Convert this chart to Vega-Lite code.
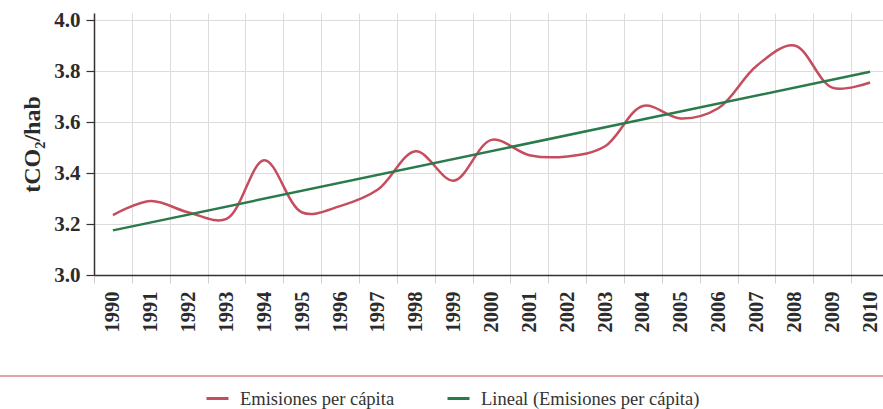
{
  "$schema": "https://vega.github.io/schema/vega-lite/v6.json",
  "autosize": {"type": "none"},
  "width": 795,
  "height": 262,
  "padding": {"left": 94, "top": 13, "right": -6, "bottom": 134},
  "background": "white",
  "datasets": {
    "emis": [
      {"year": 1990, "value": 3.235},
      {"year": 1991, "value": 3.29},
      {"year": 1992, "value": 3.245},
      {"year": 1993, "value": 3.22},
      {"year": 1994, "value": 3.45},
      {"year": 1995, "value": 3.245},
      {"year": 1996, "value": 3.27},
      {"year": 1997, "value": 3.335},
      {"year": 1998, "value": 3.485},
      {"year": 1999, "value": 3.37},
      {"year": 2000, "value": 3.53},
      {"year": 2001, "value": 3.47},
      {"year": 2002, "value": 3.465},
      {"year": 2003, "value": 3.505},
      {"year": 2004, "value": 3.663},
      {"year": 2005, "value": 3.614},
      {"year": 2006, "value": 3.655},
      {"year": 2007, "value": 3.82},
      {"year": 2008, "value": 3.9},
      {"year": 2009, "value": 3.735},
      {"year": 2010, "value": 3.755}
    ],
    "trend": [
      {"year": 1990, "value": 3.175},
      {"year": 2010, "value": 3.797}
    ],
    "sep": [
      {"level": 2.604}
    ]
  },
  "layer": [
    {
      "layer": [
        {
          "data": {"name": "emis"},
          "mark": {"type": "line", "interpolate": "catmull-rom", "strokeWidth": 2.5},
          "encoding": {
            "x": {
              "field": "year", "type": "ordinal", "title": null,
              "scale": {"type": "band", "paddingInner": 0, "paddingOuter": 0},
              "axis": {
                "tickBand": "extent", "grid": true, "gridColor": "#dcdcdc", "gridWidth": 1,
                "domainColor": "#333333", "domainWidth": 1.5,
                "tickColor": "#d0d0d0", "tickSize": 8, "tickWidth": 1,
                "labelAngle": 270, "labelFont": "Liberation Serif", "labelFontWeight": "bold",
                "labelFontSize": 20.5, "labelColor": "#2b2b2b", "labelPadding": 8
              }
            },
            "y": {
              "field": "value", "type": "quantitative",
              "scale": {"domain": [3, 4.0275], "nice": false, "zero": false},
              "axis": {
                "values": [3.0, 3.2, 3.4, 3.6, 3.8, 4.0], "format": ".1f",
                "title": "tCO₂/hab", "titleFont": "Liberation Serif", "titleFontSize": 24,
                "titleFontWeight": "bold", "titleColor": "#2b2b2b", "titlePadding": 9,
                "grid": true, "gridColor": "#dcdcdc", "gridWidth": 1,
                "domainColor": "#333333", "domainWidth": 1.5,
                "tickColor": "#333333", "tickSize": 8, "tickWidth": 1.2,
                "labelFont": "Liberation Serif", "labelFontWeight": "bold",
                "labelFontSize": 21, "labelColor": "#2b2b2b", "labelPadding": 6
              }
            },
            "color": {
              "datum": "Emisiones per cápita",
              "scale": {
                "domain": ["Emisiones per cápita", "Lineal (Emisiones per cápita)"],
                "range": ["#c64d5d", "#2a7a4c"]
              },
              "legend": {
                "title": null, "orient": "none", "direction": "horizontal",
                "legendX": 111, "legendY": 373, "gridAlign": "none",
                "symbolType": "stroke", "symbolSize": 484, "symbolStrokeWidth": 3,
                "labelFont": "Liberation Serif", "labelFontSize": 18.5, "labelColor": "#333333",
                "labelLimit": 400, "labelOffset": 10, "columnPadding": 46
              }
            }
          }
        },
        {
          "data": {"name": "trend"},
          "mark": {"type": "line", "strokeWidth": 2.5},
          "encoding": {
            "x": {"field": "year", "type": "ordinal"},
            "y": {"field": "value", "type": "quantitative"},
            "color": {"datum": "Lineal (Emisiones per cápita)"}
          }
        }
      ]
    },
    {
      "data": {"name": "sep"},
      "mark": {"type": "rule", "color": "#d98590", "strokeWidth": 1.5},
      "encoding": {
        "x": {"datum": -0.2, "type": "quantitative", "scale": {"domain": [0, 1]}, "axis": null},
        "x2": {"datum": 1.2},
        "y": {"field": "level", "type": "quantitative"}
      }
    }
  ],
  "resolve": {"scale": {"x": "independent"}},
  "config": {"view": {"stroke": null}}
}
